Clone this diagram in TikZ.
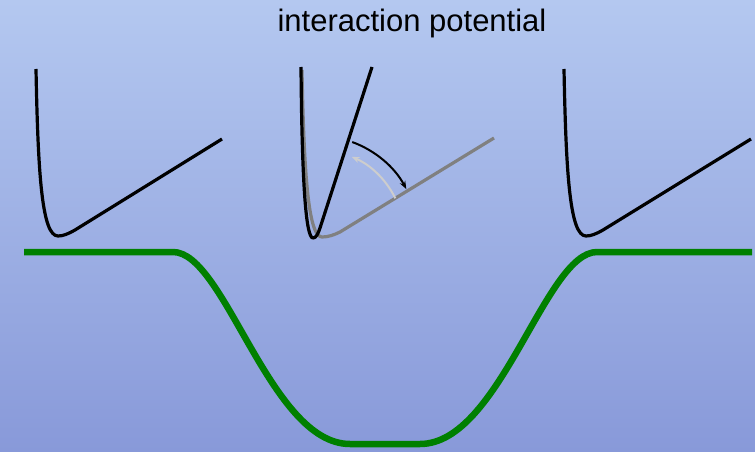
\documentclass[tikz,border=0pt]{standalone}
\usepackage{fontspec}
\setmainfont{Liberation Sans}
\usetikzlibrary{arrows.meta}
\definecolor{bgtop}{RGB}{180,200,240}
\definecolor{bgbot}{RGB}{136,153,217}
\definecolor{ptgreen}{RGB}{0,128,0}
\definecolor{ptgray}{RGB}{128,128,128}
\definecolor{ptlight}{RGB}{205,205,205}
\begin{document}
\begin{tikzpicture}[x=1pt,y=-1pt,
  pot/.style={line width=3.2pt, line join=round},
  rot/.style={line width=2pt, -{Stealth[length=8pt,width=6pt]}},
  well/.style={ptgreen, line width=6.5pt, line join=round}]
\shade[top color=bgtop,bottom color=bgbot] (0,0) rectangle (755,452);
\useasboundingbox (0,0) rectangle (755,452);
\node[font=\fontsize{31}{36}\selectfont, anchor=base, inner sep=0pt] (title) at (412,31.7) {interaction potential};
% left potential
\draw[pot] (36,69) .. controls (38,175) and (42,236) .. (58,236) .. controls (63,236) and (68,234) .. (75,230) -- (222,139);
% right potential
\draw[pot] (564,69) .. controls (566,175) and (570,236) .. (586,236) .. controls (591,236) and (596,234) .. (603,230) -- (751,139);
% middle: gray (relaxed) and black (tilted)
\draw[pot, ptgray] (302,70) .. controls (304,180) and (309,237) .. (322,237) .. controls (328,237) and (334,235) .. (340,232) -- (494,138);
\draw[pot] (301,67) .. controls (302,185) and (306,238) .. (313,238) .. controls (316,238) and (318,234) .. (320,228) -- (372,67);
% rotation arrows
\coordinate (c) at (318,236);
\draw[rot, ptlight] ([shift={(-26:86)}]c) arc[start angle=-26, end angle=-67, radius=86];
\draw[rot, black] ([shift={(-70:100)}]c) arc[start angle=-70, end angle=-28, radius=100];
% green well
\draw[well] (24,252) -- (173,252) .. controls (225,252) and (270,444) .. (350,444) -- (420,444) .. controls (500,444) and (545,252) .. (597,252) -- (752,252);
\end{tikzpicture}
\end{document}
